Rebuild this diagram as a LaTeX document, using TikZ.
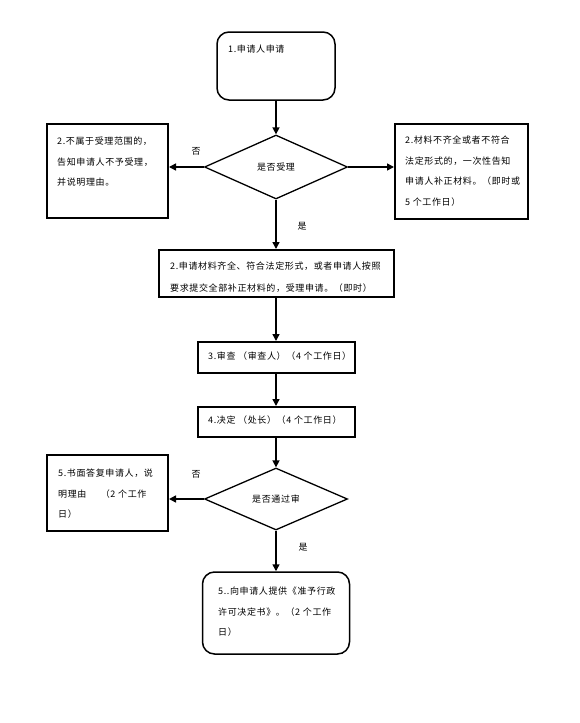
\documentclass[tikz,border=0pt]{standalone}
\usepackage{fontspec}
\newfontfamily\cjk[LetterSpace=7]{Noto Sans CJK SC}
\usetikzlibrary{shapes.geometric,arrows.meta}
\begin{document}
\begin{tikzpicture}[x=1pt,y=-1pt,
  box/.style={draw,line width=2pt,inner sep=0pt,rectangle},
  rbox/.style={draw,line width=1.5pt,inner sep=0pt,rectangle,rounded corners=12pt},
  dia/.style={draw,line width=1.3pt,diamond,inner sep=0pt,aspect=2.2},
  txt/.style={inner sep=0pt,anchor=north west,align=left,font=\cjk\fontsize{9}{20.5}\selectfont},
  lbl/.style={inner sep=0pt,font=\cjk\fontsize{9}{11}\selectfont},
  arr/.style={line width=1.5pt,-{Triangle[length=7pt,width=7pt]}}]
\useasboundingbox (0,0) rectangle (580,723);
% shapes
\node[rbox,minimum width=118pt,minimum height=68pt] (b1) at (276,66) {};
\node[dia,minimum width=143pt,minimum height=64pt] (d1) at (276,167) {};
\node[box,minimum width=121pt,minimum height=94pt] (b2) at (107.5,171) {};
\node[box,minimum width=133pt,minimum height=95pt] (b2r) at (461.5,171.5) {};
\node[box,minimum width=235pt,minimum height=47pt] (b3) at (276,273.5) {};
\node[box,minimum width=157pt,minimum height=31pt] (b4) at (276,357.5) {};
\node[box,minimum width=157pt,minimum height=30pt] (b5) at (276,422) {};
\node[dia,minimum width=143pt,minimum height=62pt] (d2) at (276,499) {};
\node[box,minimum width=121pt,minimum height=76pt] (b6) at (107.5,493) {};
\node[rbox,minimum width=147pt,minimum height=82pt] (b7) at (276,613) {};
% texts
\node[txt] (t1) at (228,45) {1.申请人申请};
\node[lbl] (td1) at (276,167) {是否受理};
\node[txt] (t2) at (57,137) {2.不属于受理范围的，\\告知申请人不予受理，\\并说明理由。};
\node[txt] (t2r) at (405,136) {2.材料不齐全或者不符合\\法定形式的，一次性告知\\申请人补正材料。（即时或\\5 个工作日）};
\node[txt,font=\cjk\fontsize{9}{22}\selectfont] (t3) at (170,262) {2.申请材料齐全、符合法定形式，或者申请人按照\\要求提交全部补正材料的，受理申请。（即时）};
\node[txt] (t4) at (208,352) {3.审查 （审查人）（4 个工作日）};
\node[txt] (t5) at (208,416) {4.决定 （处长）（4 个工作日）};
\node[lbl] (td2) at (276,499) {是否通过审};
\node[txt] (t6) at (58,469) {5.书面答复申请人，说\\明理由\hspace{1.6em}（2 个工作\\日）};
\node[txt] (t7) at (218,587) {5..向申请人提供《准予行政\\许可决定书》。（2 个工作\\日）};
% labels
\node[lbl] (n1) at (196,151) {否};
\node[lbl] (y1) at (302,226) {是};
\node[lbl] (n2) at (196,474) {否};
\node[lbl] (y2) at (303,547) {是};
% connectors
\draw[arr] (b1.south) -- (d1.north);
\draw[arr] (d1.west) -- (d1.west -| b2.east);
\draw[arr] (d1.east) -- (d1.east -| b2r.west);
\draw[arr] (d1.south) -- (b3.north);
\draw[arr] (b3.south) -- (b4.north);
\draw[arr] (b4.south) -- (b5.north);
\draw[arr] (b5.south) -- (d2.north);
\draw[arr] (d2.west) -- (d2.west -| b6.east);
\draw[arr] (d2.south) -- (b7.north);
\end{tikzpicture}
\end{document}
